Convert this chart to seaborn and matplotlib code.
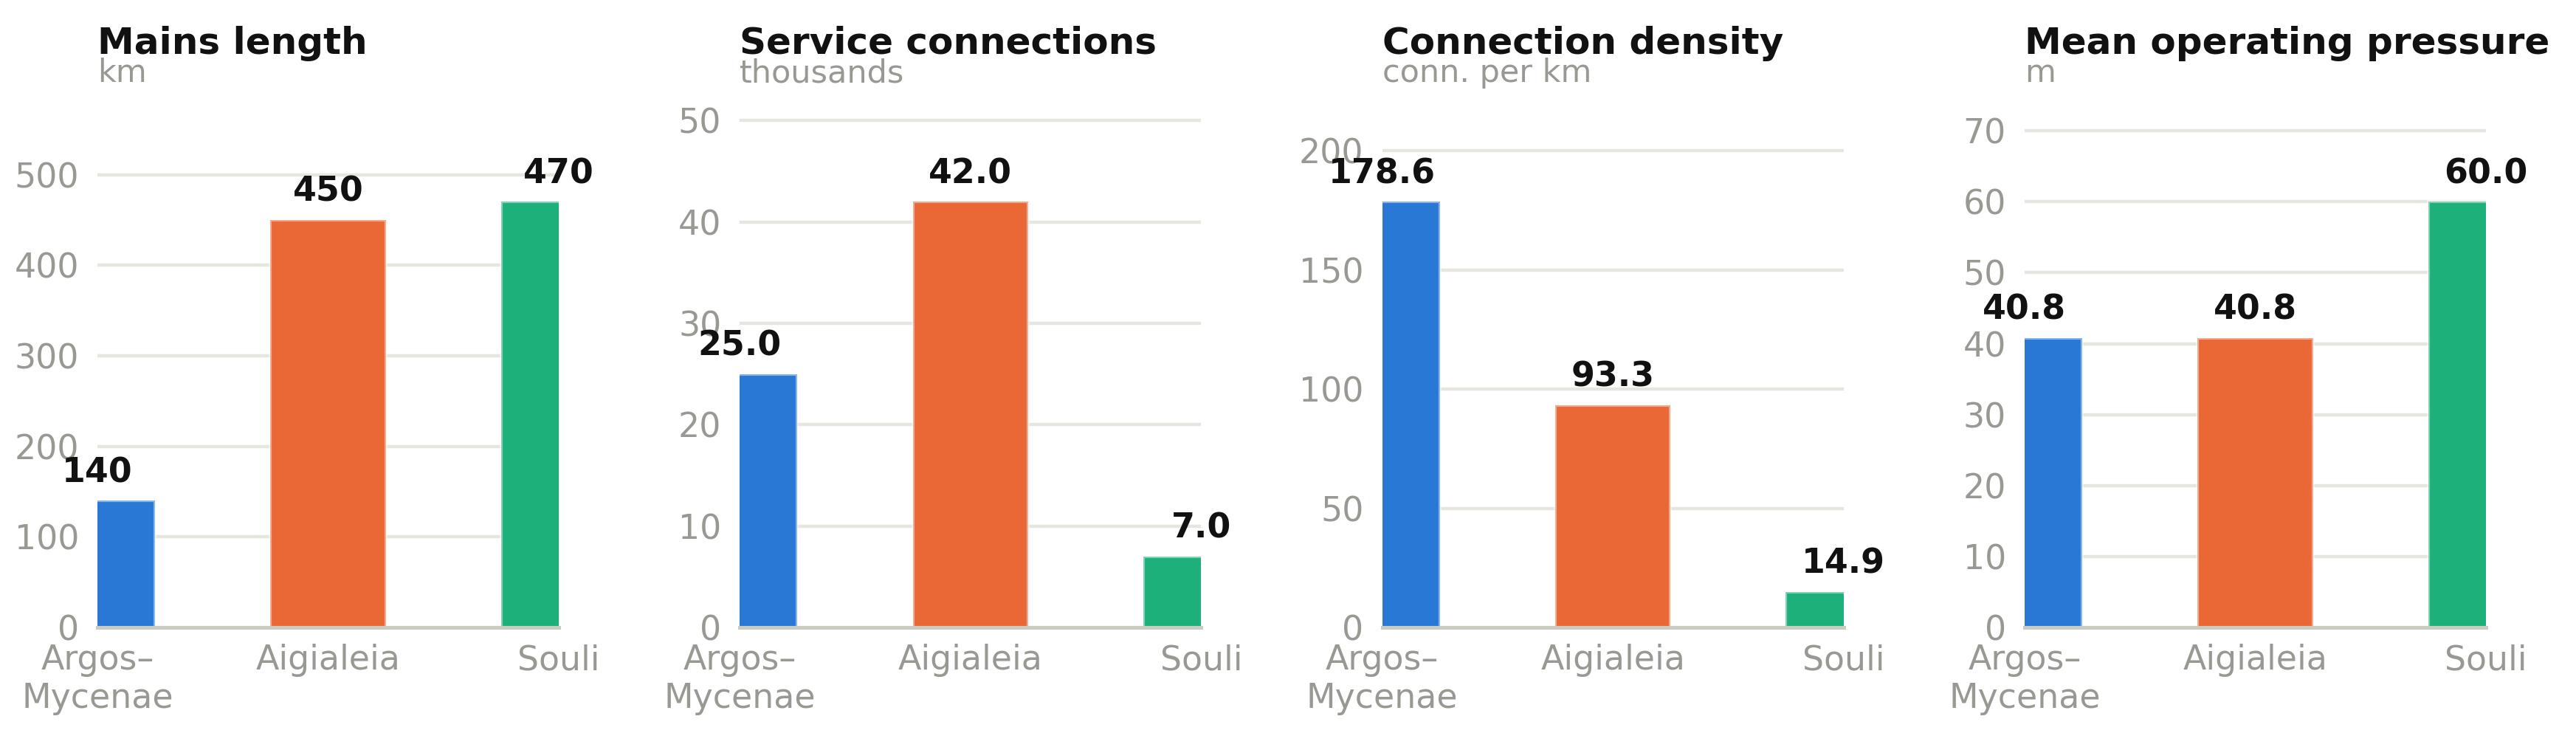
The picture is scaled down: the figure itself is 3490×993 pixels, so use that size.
import matplotlib
matplotlib.use("Agg")
import matplotlib.pyplot as plt
import seaborn as sns
import pandas as pd

# data
regions = ["Argos–\nMycenae", "Aigialeia", "Souli"]
mains_length = [140, 450, 470]
service_connections = [25.0, 42.0, 7.0]
connection_density = [178.6, 93.3, 14.9]
mean_pressure = [40.8, 40.8, 60.0]

titles = ["Mains length", "Service connections", "Connection density", "Mean operating pressure"]
units = ["km", "thousands", "conn. per km", "m"]
label_formats = ["{:.0f}", "{:.1f}", "{:.1f}", "{:.1f}"]
yticks_list = [
    [0, 100, 200, 300, 400, 500],
    [0, 10, 20, 30, 40, 50],
    [0, 50, 100, 150, 200],
    [0, 10, 20, 30, 40, 50, 60, 70],
]
series = [mains_length, service_connections, connection_density, mean_pressure]
colors = ["#2a78d6", "#e96835", "#1db07a"]

sns.set_theme(style="white")
plt.rcParams["font.family"] = ["DejaVu Sans"]

GRID = "#e6e6e0"
BASE = "#cbcbc2"
MUTED = "#999994"

fig = plt.figure(figsize=(3491 / 200, 993 / 200), dpi=200)

for i in range(4):
    left = (132 + 870.3 * i) / 3491
    ax = fig.add_axes([left, 0.1440, 625 / 3491, 0.6969])
    df = pd.DataFrame({"region": regions, "value": series[i]})
    sns.barplot(data=df, x="region", y="value", hue="region", palette=colors,
                saturation=1, width=0.5, linewidth=1.5, edgecolor=(1, 1, 1, 0.45),
                legend=False, ax=ax)
    ax.set_xlim(0, 2)
    ax.set_ylim(0, max(series[i]) * 1.2)
    ax.set_yticks(yticks_list[i])
    ax.set_xlabel("")
    ax.set_ylabel("")
    ax.yaxis.grid(True, color=GRID, linewidth=1.6)
    ax.set_axisbelow(True)
    for side in ["left", "right", "top"]:
        ax.spines[side].set_visible(False)
    ax.spines["bottom"].set_color(BASE)
    ax.spines["bottom"].set_linewidth(1.8)
    ax.tick_params(axis="y", length=0, pad=9, labelsize=16.5, labelcolor=MUTED)
    ax.tick_params(axis="x", length=0, pad=8, labelsize=16.5, labelcolor=MUTED)

    for j, v in enumerate(series[i]):
        ax.annotate(label_formats[i].format(v), xy=(j, v), xytext=(0, 9),
                    textcoords="offset points", ha="center", va="baseline",
                    fontsize=16.5, fontweight="bold", color="#111111",
                    annotation_clip=False)

    ax.annotate(titles[i], xy=(0, 1), xycoords="axes fraction", xytext=(0, 30.6),
                textcoords="offset points", ha="left", va="baseline",
                fontsize=18, fontweight="bold", color="#111111")
    ax.annotate(units[i], xy=(0, 1), xycoords="axes fraction", xytext=(0, 16.9),
                textcoords="offset points", ha="left", va="baseline",
                fontsize=15.5, color=MUTED)

fig.savefig("out.png", dpi=200)
